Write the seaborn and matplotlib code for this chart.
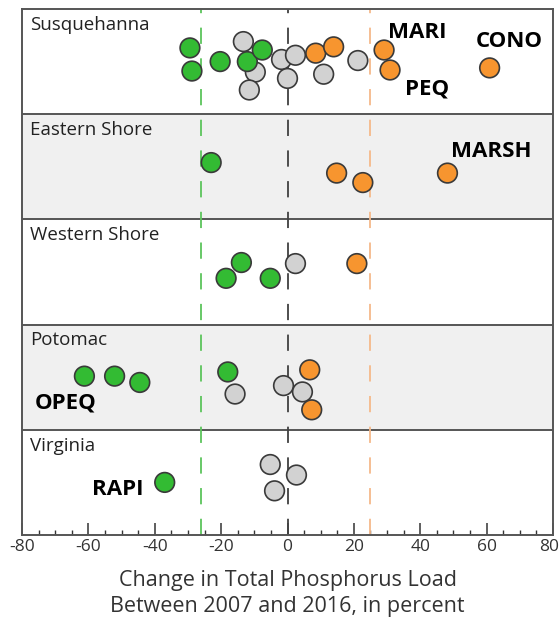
import matplotlib
matplotlib.use("Agg")
import matplotlib.pyplot as plt
import matplotlib.transforms as mtransforms
import numpy as np
import pandas as pd
import seaborn as sns
from matplotlib.ticker import MultipleLocator

# Regions, top to bottom
regions = ["Susquehanna", "Eastern Shore", "Western Shore", "Potomac", "Virginia"]

# Percent change in total phosphorus load (2007-2016) for each station,
# its trend class, and its vertical lane inside the region strip (0 = top, 1 = bottom)
sus_change = [-29.4, -28.8, -20.3, -13.3, -9.7, -11.5, -12.1, -7.6, -1.8, 2.4, 0.0,
              10.9, 21.2, 8.5, 13.9, 29.1, 30.9, 60.9]
sus_trend = ["down", "down", "down", "none", "none", "none", "down", "down", "none", "none", "none",
             "none", "none", "up", "up", "up", "up", "up"]
sus_lane = [0.37, 0.59, 0.50, 0.31, 0.60, 0.77, 0.50, 0.39, 0.48, 0.44, 0.66,
            0.62, 0.49, 0.42, 0.36, 0.39, 0.58, 0.56]

east_change = [-23.0, 14.8, 22.7, 48.2]
east_trend = ["down", "up", "up", "up"]
east_lane = [0.46, 0.56, 0.65, 0.56]

west_change = [-13.9, -18.5, -5.2, 2.4, 20.9]
west_trend = ["down", "down", "down", "none", "up"]
west_lane = [0.41, 0.56, 0.56, 0.42, 0.42]

pot_change = [-61.2, -52.1, -44.5, -18.0, -15.8, -1.2, 4.5, 6.7, 7.3]
pot_trend = ["down", "down", "down", "down", "none", "none", "none", "up", "up"]
pot_lane = [0.49, 0.49, 0.55, 0.45, 0.66, 0.58, 0.64, 0.43, 0.81]

va_change = [-37.0, -5.2, 2.7, -3.9]
va_trend = ["down", "none", "none", "none"]
va_lane = [0.50, 0.33, 0.43, 0.58]

# Named stations: (region, change, label)
named_region = ["Susquehanna", "Susquehanna", "Susquehanna", "Eastern Shore", "Potomac", "Virginia"]
named_change = [29.1, 60.9, 30.9, 48.2, -61.2, -37.0]
named_label = ["MARI", "CONO", "PEQ", "MARSH", "OPEQ", "RAPI"]

# Axis ticks
x_ticks = [-80, -60, -40, -20, 0, 20, 40, 60, 80]

trend_colors = {"down": "#33bb33", "none": "#d2d2d2", "up": "#f7952f"}

frames = []
for name, ch, tr, ln in [
    ("Susquehanna", sus_change, sus_trend, sus_lane),
    ("Eastern Shore", east_change, east_trend, east_lane),
    ("Western Shore", west_change, west_trend, west_lane),
    ("Potomac", pot_change, pot_trend, pot_lane),
    ("Virginia", va_change, va_trend, va_lane),
]:
    frames.append(pd.DataFrame({"region": name, "change": ch, "trend": tr, "lane": ln}))
df = pd.concat(frames, ignore_index=True)
df["ypos"] = df["region"].map({r: i for i, r in enumerate(regions)}) + df["lane"]

sns.set_theme(style="white")
plt.rcParams["font.family"] = ["Open Sans", "DejaVu Sans"]
plt.rcParams["axes.unicode_minus"] = False

fig, ax = plt.subplots(figsize=(5.6, 6.19), dpi=100)
fig.subplots_adjust(left=0.0393, right=0.9875, top=0.9855, bottom=0.1357)

# Shaded strips and separators
for i, r in enumerate(regions):
    if i % 2 == 1:
        ax.axhspan(i, i + 1, color="#f0f0f0", zorder=0, lw=0)
    if i > 0:
        ax.axhline(i, color="#555555", lw=1.4, zorder=1)
    ax.text(-77.6, i + 0.15, r, ha="left", va="center", fontsize=13.5, color="#222222", zorder=4)

# Reference lines
ax.axvline(-26, color="#5cc45c", lw=1.3, ls=(0, (9, 8)), zorder=1)
ax.axvline(0, color="#404040", lw=1.3, ls=(0, (9, 8)), zorder=1)
ax.axvline(25, color="#f5b98a", lw=1.3, ls=(0, (9, 8)), zorder=1)

sns.scatterplot(data=df, x="change", y="ypos", hue="trend", palette=trend_colors,
                s=200, edgecolor="#3a3a3a", linewidth=1.2, legend=False, ax=ax, zorder=3)

# Station labels
label_offsets = {"MARI": (33, 18), "CONO": (20, 26), "PEQ": (37, -19),
                 "MARSH": (44, 22), "OPEQ": (-19, -27), "RAPI": (-47, -7)}
for reg, ch, lab in zip(named_region, named_change, named_label):
    row = df[(df["region"] == reg) & (np.isclose(df["change"], ch))].iloc[0]
    ax.annotate(lab, xy=(row["change"], row["ypos"]), xytext=label_offsets[lab],
                textcoords="offset pixels", ha="center", va="center",
                fontsize=16, fontweight="bold", color="black", zorder=5)

ax.set_xlim(-80, 80)
ax.set_ylim(5, 0)
ax.set_yticks([])
ax.set_ylabel("")
ax.set_xticks(x_ticks)
ax.xaxis.set_minor_locator(MultipleLocator(5))
ax.tick_params(axis="x", which="major", direction="in", length=9, width=1.1,
               color="#333333", labelsize=12.5, pad=3, labelcolor="#333333", bottom=True)
ax.tick_params(axis="x", which="minor", direction="in", length=3.5, width=1.0,
               color="#333333", bottom=True)
ax.set_xlabel("Change in Total Phosphorus Load\nBetween 2007 and 2016, in percent",
              fontsize=15.5, color="#333333", labelpad=11, linespacing=1.28)
for s in ax.spines.values():
    s.set_color("#555555")
    s.set_linewidth(1.4)

# Keep the rightmost tick label inside the figure edge
edge_label = ax.xaxis.get_major_ticks()[-1].label1
edge_label.set_horizontalalignment("right")
edge_label.set_transform(edge_label.get_transform()
                         + mtransforms.ScaledTranslation(6 / 100, 0, fig.dpi_scale_trans))

fig.savefig("out.png", dpi=100)
